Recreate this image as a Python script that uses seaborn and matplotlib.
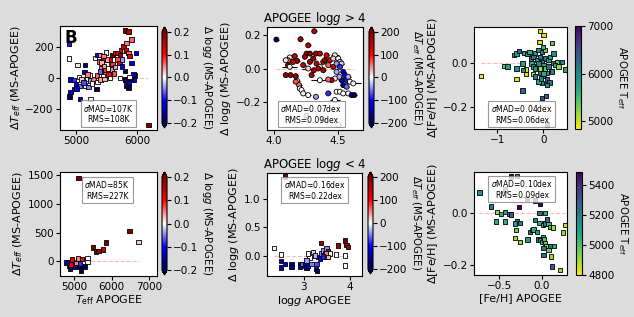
import matplotlib
matplotlib.use("Agg")
import matplotlib.pyplot as plt
import seaborn as sns
import pandas as pd
from matplotlib.colors import Normalize
from matplotlib.cm import ScalarMappable

# ---------------- Panel 1: Teff (top) ----------------
teff1 = [4885, 4885, 5022, 5150, 5137, 5049, 4913, 4967, 5093, 5186, 5230, 5284, 5000, 5066,
         5148, 5202, 4967, 5010, 4913, 4891, 5066, 5240, 5339, 5350, 5340, 5230, 5190, 5120,
         5260, 5311, 5350, 5390, 5492, 5380, 5445, 5500, 5420, 5395, 5475, 5530, 5557, 5585,
         5557, 5601, 5640, 5678, 5722, 5733, 5678, 5711, 5750, 5750, 5776, 5787, 5820, 5831,
         5858, 5875, 5913, 5803, 5913, 5420, 5460, 5480, 5510, 5450, 5520, 5600, 5640, 5620,
         5440, 5400, 5470, 5803, 5830, 5858, 5820, 5858, 5940, 5967, 5940, 5900, 5880, 5803,
         5858, 5984, 6186, 5720]
dteff1 = [220, 125, 82, 82, 37, 5, -10, -12, -10, -5, -15, -10, -43, -50,
          -48, -58, -71, -68, -92, -118, -135, -135, -71, -25, 15, 15, 22, -30,
          -35, 130, 150, 150, 165, 107, 118, 86, 64, 43, 32, 22, 0, 54,
          118, 150, 161, 161, 150, 182, 118, 96, 118, 75, 204, 172, 182, 226,
          161, 140, 247, 47, 96, 100, 75, 50, 120, 140, 60, 90, 70, 30,
          10, -10, -5, -10, -15, -28, -50, -60, -10, 15, 22, -5, 5, 307,
          300, 161, -301, 0]
dlogg1 = [-0.09, 0.0, 0.01, -0.19, -0.11, 0.0, -0.12, -0.08, 0.02, 0.0, -0.04, 0.05, -0.12, -0.05,
          0.0, -0.05, -0.18, -0.1, -0.13, -0.2, -0.13, 0.0, -0.2, 0.0, 0.06, 0.0, 0.05, -0.07,
          0.0, 0.0, -0.1, 0.04, 0.0, 0.06, 0.1, 0.0, 0.05, -0.06, 0.06, 0.1, 0.0, 0.05,
          0.12, 0.2, 0.13, 0.12, 0.18, 0.12, 0.07, 0.12, -0.04, -0.1, 0.15, 0.03, 0.12, 0.05,
          0.06, 0.12, 0.06, -0.2, -0.12, 0.03, 0.04, 0.08, 0.04, 0.05, 0.0, 0.08, -0.03, 0.07,
          0.0, 0.04, 0.03, -0.15, -0.2, -0.12, -0.19, -0.2, -0.1, -0.04, -0.13, -0.18, 0.0, 0.2,
          0.15, -0.12, 0.2, 0.0]

# ---------------- Panel 2: logg > 4 ----------------
logg2 = [4.018, 4.313, 4.206, 4.266, 4.253, 4.279, 4.326, 4.357, 4.409, 4.474, 4.5, 4.513,
         4.526, 4.122, 4.161, 4.109, 4.18, 4.091, 4.109, 4.279, 4.331, 4.383, 4.396, 4.435,
         4.422, 4.357, 4.344, 4.461, 4.383, 4.31, 4.266, 4.122, 4.487, 4.513, 4.539, 4.552,
         4.526, 4.565, 4.578, 4.591, 4.617, 4.508, 4.474, 4.448, 4.422, 4.357, 4.292, 4.128,
         4.091, 4.169, 4.18, 4.169, 4.195, 4.2, 4.214, 4.227, 4.266, 4.326, 4.422, 4.487,
         4.513, 4.539, 4.578, 4.604, 4.625, 4.474, 4.5, 4.253, 4.383, 4.539, 4.565, 4.487,
         4.461, 4.227, 4.148, 4.305, 4.24]
dlogg2 = [0.171, 0.220, 0.173, 0.137, 0.088, 0.088, 0.088, 0.088, 0.078, 0.078, 0.059, 0.039,
          0.029, 0.065, 0.073, 0.049, 0.045, 0.049, 0.020, 0.039, 0.029, 0.039, 0.049, 0.049,
          0.020, 0.010, 0.0, 0.010, -0.010, -0.010, 0.0, 0.010, 0.029, 0.010, -0.020, -0.039,
          -0.069, -0.069, -0.049, -0.078, -0.088, -0.049, -0.059, -0.069, -0.065, -0.069, -0.039, -0.039,
          -0.039, -0.045, -0.073, -0.078, -0.098, -0.118, -0.127, -0.147, -0.157, -0.167, -0.147, -0.137,
          -0.137, -0.147, -0.147, -0.157, -0.157, -0.186, -0.333, -0.28, -0.30, -0.098, -0.108, -0.02,
          0.059, 0.02, 0.039, 0.059, 0.069]
dteff2 = [-200, 150, 170, 150, 160, 190, 170, 140, 120, 10, 0, 30,
          -20, 0, 150, 60, 180, 10, 170, 170, 150, 130, 180, 130,
          60, 10, 150, 130, 160, 170, 20, 0, -40, -80, -120, -100,
          -140, -90, -30, 0, 0, -30, 10, 150, 60, 0, 160, 170,
          190, 180, 0, 70, 60, 0, 0, 0, 0, -40, -80, 0,
          0, 0, 0, -150, -190, 0, 0, -40, -40, -150, -60, -30,
          20, 150, 140, 180, 160]
xerr2 = [0.02, 0.02, 0.02, 0.02, 0.02, 0.02, 0.02, 0.02, 0.02, 0.03, 0.02, 0.02,
         0.02, 0.02, 0.02, 0.02, 0.02, 0.02, 0.02, 0.02, 0.02, 0.02, 0.02, 0.02,
         0.02, 0.02, 0.02, 0.02, 0.02, 0.02, 0.05, 0.06, 0.02, 0.02, 0.02, 0.02,
         0.02, 0.02, 0.02, 0.03, 0.06, 0.02, 0.02, 0.02, 0.02, 0.07, 0.02, 0.03,
         0.02, 0.02, 0.02, 0.02, 0.02, 0.02, 0.02, 0.02, 0.02, 0.02, 0.02, 0.02,
         0.02, 0.02, 0.04, 0.02, 0.02, 0.04, 0.02, 0.02, 0.02, 0.02, 0.02, 0.02,
         0.02, 0.02, 0.02, 0.02, 0.02]

# ---------------- Panel 3: [Fe/H] (top) ----------------
feh3 = [-1.355, -0.85, -0.58, -0.638, -0.58, -0.522, -0.58, -0.449, -0.42, -0.348, -0.304,
        -0.275, -0.254, -0.232, -0.181, -0.109, -0.036, 0.036, -0.072, 0.0, -0.087, 0.181,
        -0.014, 0.036, 0.109, 0.203, 0.29, 0.399, 0.471, 0.159, 0.072, -0.072, -0.232,
        -0.377, -0.377, -0.435, -0.181, -0.014, 0.072, 0.13, -0.036, -0.109, -0.449, 0.058,
        -0.036, 0.072, -0.217, -0.145, -0.072, -0.036, 0.0, 0.036, 0.109, 0.145, 0.217,
        -0.145, -0.109, -0.072, -0.181, 0.0, -0.058, 0.072, 0.181, 0.254, 0.326, -0.78]
dfeh3 = [-0.057, -0.012, -0.072, 0.038, 0.046, 0.058, -0.023, 0.0, 0.049, 0.043, 0.054,
         0.023, 0.0, -0.015, 0.046, 0.061, 0.054, 0.061, 0.151, 0.131, 0.1, 0.095,
         0.077, 0.023, 0.015, 0.003, 0.008, 0.008, -0.028, -0.034, -0.043, -0.043, -0.049,
         -0.049, -0.028, -0.031, -0.061, -0.058, -0.074, -0.089, -0.092, -0.084, -0.126, -0.151,
         -0.161, -0.284, 0.031, 0.015, 0.031, 0.008, -0.008, -0.023, -0.015, 0.031, 0.046,
         -0.015, 0.0, -0.023, -0.023, -0.046, -0.069, -0.1, -0.038, -0.008, -0.015, -0.015]
teff3 = [4900, 5400, 4950, 5900, 5800, 6300, 5900, 5800, 5700, 6000, 5600,
         6300, 5600, 6000, 5800, 5900, 6000, 5300, 4900, 4950, 5000, 5400,
         5500, 6100, 5800, 6100, 5400, 6000, 5700, 5300, 6000, 6100, 4950,
         4950, 5000, 6000, 6100, 6200, 6300, 6200, 6100, 5700, 6300, 6300,
         6400, 6900, 6200, 5700, 6100, 6000, 5800, 5400, 6200, 5700, 5900,
         6100, 6000, 5100, 5900, 5700, 6000, 5900, 6000, 5600, 5200, 5800]

# ---------------- Panel 4: Teff (bottom) ----------------
teff4 = [5116, 6476, 6716, 5853, 5764, 5498, 5587, 5649, 4849, 4876, 4893, 4964, 4982, 5027,
         5071, 5116, 5142, 5204, 5231, 5276, 5098, 5293, 5356, 5267, 5187, 4938, 5027, 4911,
         4804, 5160, 5053, 5356, 5204]
dteff4 = [1450, 529, 337, 326, 209, 238, 174, 180, -12, -70, -128, -41, -99, -12,
          -70, 17, -99, -12, -58, -87, 46, 17, 46, -12, -160, 29, -58, -58,
          -23, -41, -29, -12, 40]
dlogg4 = [0.2, 0.2, 0.02, 0.2, 0.15, 0.2, 0.2, 0.18, -0.1, -0.18, -0.2, 0.0, -0.12, 0.08,
          -0.2, 0.15, -0.2, 0.0, -0.1, -0.2, 0.05, 0.08, 0.0, 0.0, -0.2, 0.12, -0.12, 0.1,
          -0.15, -0.08, 0.05, 0.0, 0.1]

# ---------------- Panel 5: logg < 4 ----------------
logg5 = [2.594, 2.355, 2.5, 2.5, 2.5, 2.587, 2.732, 2.732, 2.913, 2.913, 2.971, 3.022, 3.058,
         3.094, 3.167, 3.261, 3.13, 3.094, 3.203, 3.312, 3.384, 3.348, 3.275, 3.42, 3.457,
         3.493, 3.29, 3.37, 3.529, 3.457, 3.493, 3.565, 3.696, 3.746, 3.891, 3.928, 3.964,
         3.891, 3.891, 3.239, 3.42, 3.529, 3.058]
dlogg5 = [1.388, 0.139, 0.029, -0.087, -0.203, -0.134, -0.134, -0.192, -0.134, -0.18, -0.134,
          -0.163, -0.203, -0.163, -0.134, -0.221, -0.029, 0.041, 0.07, -0.017, 0.041, -0.046,
          -0.134, 0.099, 0.041, 0.128, -0.256, 0.226, 0.081, -0.006, 0.041, 0.041, 0.029,
          0.186, 0.273, 0.197, 0.157, 0.012, -0.163, 0.012, -0.006, -0.017, -0.075]
dteff5 = [200, 0, 0, -150, -150, -130, -160, -170, -120, -150, -60, -120, -180,
          -110, -50, -140, 0, 0, -20, -70, -50, -110, -70, -40, -130,
          -50, -180, 180, 180, -20, 50, 0, 0, 190, 200, 180, 160,
          0, 0, -30, -90, 30, -40]

# ---------------- Panel 6: [Fe/H] (bottom) ----------------
feh6 = [-0.735, -0.366, -0.295, -0.601, -0.531, -0.483, -0.432, -0.381, -0.539, -0.432, -0.362,
        -0.295, -0.314, -0.255, -0.303, -0.255, -0.314, -0.169, -0.138, -0.118, -0.098, -0.059,
        -0.079, -0.028, 0.012, 0.039, 0.059, -0.028, 0.039, 0.079, 0.098, 0.13, -0.039, -0.02,
        0.0, 0.012, 0.028, 0.039, 0.051, 0.098, 0.145, 0.02, 0.02, 0.079, 0.106, 0.118, 0.216,
        0.248, 0.275, -0.267, -0.177, -0.079, -0.02, -0.432]
dfeh6 = [0.078, 0.14, 0.141, 0.025, 0.004, -0.005, 0.004, -0.005, -0.034, -0.034, -0.006,
         -0.031, -0.041, -0.038, -0.066, -0.111, -0.096, -0.102, -0.073, -0.066, -0.064, -0.073,
         -0.028, -0.038, -0.047, -0.041, -0.025, 0.0, 0.0, -0.043, -0.054, -0.056, -0.102, -0.105,
         -0.111, -0.094, -0.102, -0.117, -0.127, -0.127, -0.127, -0.136, -0.162, -0.143, -0.168,
         -0.206, -0.219, -0.076, -0.047, 0.023, 0.055, 0.048, 0.033, 0.089]
teff6 = [5150, 5480, 5200, 5200, 4900, 5050, 5100, 5250, 5050, 5050, 5300,
         5150, 5100, 5200, 4950, 4900, 4900, 5100, 5200, 5250, 5050, 5100,
         5200, 5050, 5050, 5200, 5250, 5250, 5050, 5000, 5000, 4900, 5200, 5100,
         5050, 5050, 5000, 4950, 4900, 5250, 5050, 5200, 5250, 4950, 4900, 5300, 4900,
         4900, 4850, 5480, 5450, 5450, 5480, 5450]

stats = ["$\\sigma$MAD=107K\nRMS=108K", "$\\sigma$MAD=0.07dex\nRMS=0.09dex",
         "$\\sigma$MAD=0.04dex\nRMS=0.06dex", "$\\sigma$MAD=85K\nRMS=227K",
         "$\\sigma$MAD=0.16dex\nRMS=0.22dex", "$\\sigma$MAD=0.10dex\nRMS=0.09dex"]

W, H = 634, 317
fig = plt.figure(figsize=(W / 100, H / 100), dpi=100, facecolor="#dcdcdc")


def box(l, r, t, b):
    return [l / W, 1 - b / H, (r - l) / W, (b - t) / H]


LAB = 8
CLAB = 7.3
TCK = 7.5


def panel(axb, caxb, x, y, c, cmap, vlim, marker, size, xlim, ylim, xticks, yticks,
          cticks, ylabel, clabel, stat, spos, extend, xlabel=None, title=None, xerr=None):
    ax = fig.add_axes(box(*axb))
    ax.set_facecolor("white")
    df = pd.DataFrame({"x": x, "y": y, "c": c})
    ax.hlines(0, min(x), max(x), colors="#ff9a9a", linestyles="--", lw=0.8, alpha=0.7, zorder=1)
    if xerr is not None:
        ax.errorbar(x, y, xerr=xerr, fmt="none", ecolor="k", elinewidth=0.8, zorder=2)
    sns.scatterplot(data=df, x="x", y="y", hue="c", palette=cmap, hue_norm=vlim,
                    marker=marker, s=size, edgecolor="k", linewidth=0.6, legend=False,
                    ax=ax, zorder=3)
    ax.set_xlim(*xlim)
    ax.set_ylim(*ylim)
    ax.set_xticks(xticks)
    ax.set_yticks(yticks)
    ax.tick_params(labelsize=TCK, length=3, width=0.8, pad=1.5)
    ax.set_ylabel(ylabel, fontsize=LAB, labelpad=2)
    ax.set_xlabel(xlabel if xlabel else "", fontsize=LAB, labelpad=1)
    if title:
        ax.set_title(title, fontsize=8.5, pad=2)
    ax.text(spos[0], spos[1], stat, transform=ax.transAxes, ha="center", va="center",
            fontsize=5.5, zorder=4,
            bbox=dict(boxstyle="square,pad=0.35", facecolor="white", edgecolor="gray",
                      alpha=0.8, lw=0.8))
    cax = fig.add_axes(box(*caxb))
    sm = ScalarMappable(norm=Normalize(*vlim), cmap=cmap)
    cb = fig.colorbar(sm, cax=cax, extend=extend)
    cb.set_ticks(cticks)
    cb.ax.tick_params(labelsize=TCK, length=3, width=0.8, pad=1.5)
    cb.set_label(clabel, fontsize=CLAB, rotation=270, va="bottom", labelpad=1)
    return ax


ax1 = panel((60, 157, 26, 130), (162, 167, 27, 128), teff1, dteff1, dlogg1, "seismic",
            (-0.2, 0.2), "s", 10, (4738, 6328), (-335, 335), [5000, 6000], [-200, 0, 200],
            [-0.2, -0.1, 0.0, 0.1, 0.2], "$\\Delta T_{eff}$ (MS-APOGEE)",
            "$\\Delta$ log$g$ (MS-APOGEE)", stats[0], (0.5, 0.16), "both")
ax1.text(0.05, 0.975, "B", transform=ax1.transAxes, fontsize=12, fontweight="bold",
         ha="left", va="top")

panel((267, 363, 27, 130), (369, 374, 27, 128), logg2, dlogg2, dteff2, "seismic",
      (-200, 200), "o", 13, (3.945, 4.693), (-0.363, 0.245), [4.0, 4.5], [-0.2, 0.0, 0.2],
      [-200, -100, 0, 100, 200], "$\\Delta$ log$g$ (MS-APOGEE)",
      "$\\Delta T_{eff}$ (MS-APOGEE)", stats[1], (0.46, 0.155), "both",
      title="APOGEE log$g$ > 4", xerr=xerr2)

panel((474, 567, 27, 129), (575, 581, 26, 129), feh3, dfeh3, teff3, "viridis_r",
      (4840, 7000), "s", 10, (-1.5, 0.509), (-0.304, 0.169), [-1, 0], [-0.2, 0.0],
      [5000, 6000, 7000], "$\\Delta$[Fe/H] (MS-APOGEE)", "APOGEE T$_{\\rm eff}$",
      stats[2], (0.516, 0.147), "neither")

panel((60, 157, 172, 276), (162, 167, 172, 275), teff4, dteff4, dlogg4, "seismic",
      (-0.2, 0.2), "s", 10, (4627, 7205), (-256, 1558), [5000, 6000, 7000],
      [0, 500, 1000, 1500], [-0.2, -0.1, 0.0, 0.1, 0.2], "$\\Delta T_{eff}$ (MS-APOGEE)",
      "$\\Delta$ log$g$ (MS-APOGEE)", stats[3], (0.485, 0.827), "both",
      xlabel="$T_{\\rm eff}$ APOGEE")

panel((267, 362, 173, 276), (368, 373, 172, 274), logg5, dlogg5, dteff5, "seismic",
      (-200, 200), "s", 10, (2.202, 4.267), (-0.348, 1.446), [3, 4], [0.0, 0.5, 1.0],
      [-200, -100, 0, 100, 200], "$\\Delta$ log$g$ (MS-APOGEE)",
      "$\\Delta T_{eff}$ (MS-APOGEE)", stats[4], (0.505, 0.835), "both",
      xlabel="log$g$ APOGEE", title="APOGEE log$g$ < 4")

panel((474, 567, 172, 275), (576, 582, 172, 275), feh6, dfeh6, teff6, "viridis_r",
      (4800, 5490), "s", 10, (-0.798, 0.295), (-0.239, 0.157), [-0.5, 0.0], [-0.2, 0.0],
      [4800, 5000, 5200, 5400], "$\\Delta$[Fe/H] (MS-APOGEE)", "APOGEE T$_{\\rm eff}$",
      stats[5], (0.516, 0.835), "neither", xlabel="[Fe/H] APOGEE")

fig.savefig("out.png", dpi=100, facecolor=fig.get_facecolor())
